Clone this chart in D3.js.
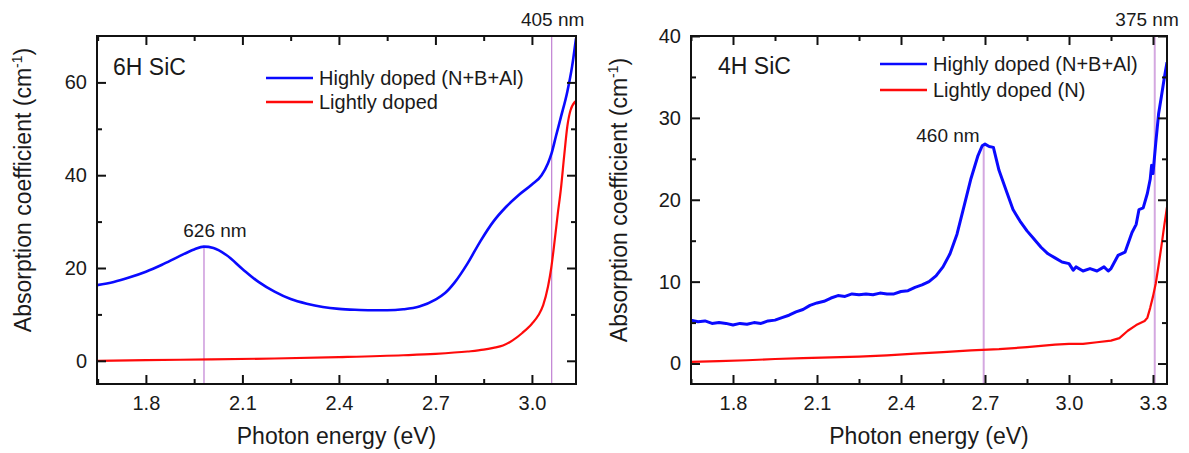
<!DOCTYPE html>
<html>
<head>
<meta charset="utf-8">
<script src="https://cdn.jsdelivr.net/npm/d3@7"></script>
<style>
  body { margin: 0; background: #fff; }
  text { font-family: "Liberation Sans", Arial, sans-serif; fill: #1a1a1a; }
</style>
</head>
<body>
<script>
var W = 1189, H = 453;

// ---- 6H SiC (left panel) ----
var high6H_E = [1.648, 1.70, 1.75, 1.80, 1.85, 1.90, 1.95, 1.98, 2.01, 2.05, 2.10, 2.15, 2.20, 2.25, 2.30,
  2.35, 2.40, 2.45, 2.50, 2.55, 2.60, 2.65, 2.70, 2.73, 2.76, 2.80, 2.84, 2.88, 2.92, 2.96, 3.00,
  3.03, 3.05, 3.061, 3.075, 3.09, 3.11, 3.125, 3.137];
var high6H_A = [16.3, 17.0, 18.0, 19.2, 20.7, 22.4, 24.0, 24.6, 24.3, 22.8, 19.8, 17.0, 14.9, 13.3, 12.3,
  11.6, 11.2, 11.0, 10.9, 10.9, 11.1, 11.7, 13.2, 14.6, 16.9, 21.0, 25.8, 30.0, 33.2, 35.8, 38.0,
  40.0, 42.6, 44.7, 48.5, 52.5, 58.0, 63.5, 69.5];

var light6H_E = [1.648, 1.80, 2.00, 2.20, 2.40, 2.60, 2.70, 2.80, 2.85, 2.88, 2.91, 2.94, 2.97, 3.00,
  3.02, 3.035, 3.05, 3.06, 3.07, 3.08, 3.09, 3.10, 3.11, 3.12, 3.137];
var light6H_A = [0.0, 0.15, 0.3, 0.5, 0.8, 1.2, 1.5, 2.0, 2.4, 2.8, 3.3, 4.4, 6.0, 8.0,
  9.8, 12.0, 16.0, 20.0, 25.5, 31.5, 37.0, 44.0, 50.5, 54.0, 56.0];

// ---- 4H SiC (right panel) ----
var high4H_E = [1.650, 1.675, 1.700, 1.725, 1.750, 1.775, 1.800, 1.825, 1.850, 1.875, 1.900, 1.925,
  1.950, 1.975, 2.000, 2.025, 2.050, 2.075, 2.100, 2.125, 2.150, 2.175, 2.200, 2.225, 2.250, 2.275,
  2.300, 2.325, 2.350, 2.375, 2.400, 2.425, 2.450, 2.475, 2.500, 2.525, 2.550, 2.575, 2.600, 2.625,
  2.650, 2.675, 2.690, 2.700, 2.715, 2.730, 2.750, 2.775, 2.800, 2.825, 2.850, 2.875, 2.900, 2.925,
  2.950, 2.975, 3.000, 3.015, 3.025, 3.050, 3.075, 3.100, 3.125, 3.140, 3.150, 3.175, 3.200, 3.225,
  3.240, 3.250, 3.265, 3.280, 3.290, 3.295, 3.300, 3.310, 3.320, 3.330, 3.340, 3.350];
var high4H_A = [5.3, 5.1, 5.2, 4.9, 5.0, 4.9, 4.7, 4.9, 4.8, 5.0, 4.9, 5.2,
  5.3, 5.6, 5.9, 6.3, 6.6, 7.1, 7.4, 7.6, 8.0, 8.3, 8.2, 8.5, 8.4, 8.5,
  8.4, 8.6, 8.5, 8.5, 8.8, 8.9, 9.3, 9.6, 10.0, 10.7, 11.8, 13.4, 15.8, 19.2,
  22.6, 25.4, 26.6, 26.8, 26.5, 26.4, 23.6, 21.2, 18.8, 17.4, 16.2, 15.2, 14.2, 13.4,
  12.9, 12.4, 12.2, 11.4, 11.8, 11.3, 11.6, 11.3, 11.8, 11.3, 11.6, 13.2, 13.6, 16.0,
  17.0, 18.8, 19.0, 20.8, 22.5, 24.2, 23.2, 27.0, 30.5, 32.6, 34.8, 36.8];

var light4H_E = [1.650, 1.75, 1.85, 1.95, 2.05, 2.15, 2.25, 2.35, 2.45, 2.55, 2.65, 2.75, 2.85, 2.95,
  3.00, 3.05, 3.10, 3.15, 3.18, 3.21, 3.24, 3.27, 3.28, 3.29, 3.30, 3.31, 3.32, 3.33, 3.34, 3.35];
var light4H_A = [0.2, 0.3, 0.4, 0.55, 0.65, 0.75, 0.85, 1.0, 1.2, 1.4, 1.6, 1.75, 2.0, 2.3,
  2.4, 2.4, 2.6, 2.8, 3.1, 4.0, 4.7, 5.2, 5.6, 6.8, 8.2, 9.8, 12.0, 14.3, 16.8, 19.1];

// axes ticks
var xMajor6H = [1.8, 2.1, 2.4, 2.7, 3.0];
var xMinor6H = [1.65, 1.95, 2.25, 2.55, 2.85];
var yMajor6H = [0, 20, 40, 60];
var yMinor6H = [10, 30, 50];

var xMajor4H = [1.8, 2.1, 2.4, 2.7, 3.0, 3.3];
var xMinor4H = [1.65, 1.95, 2.25, 2.55, 2.85, 3.15];
var yMajor4H = [0, 10, 20, 30, 40];
var yMinor4H = [5, 15, 25, 35];

// marker lines: energy (eV), top of line (value or null = frame top), label
var markers6H = [
  { e: 1239.84 / 626, top: 24.6, label: "626 nm" },
  { e: 1239.84 / 405, top: null, label: "405 nm" }
];
var markers4H = [
  { e: 1239.84 / 460, top: 26.8, label: "460 nm" },
  { e: 1239.84 / 375, top: null, label: "375 nm" }
];

var seriesNames6H = ["Highly doped (N+B+Al)", "Lightly doped"];
var seriesNames4H = ["Highly doped (N+B+Al)", "Lightly doped (N)"];
var colors = ["#0a0aff", "#ff0a0a"];

var svg = d3.select("body").append("svg")
  .attr("width", W)
  .attr("height", H);

function zip(es, as) {
  return es.map(function(e, i) { return { e: e, a: as[i] }; });
}

function drawPanel(p) {
  var x = d3.scaleLinear().domain(p.xDomain).range([p.left, p.right]);
  var y = d3.scaleLinear().domain(p.yDomain).range([p.bottom, p.top]);
  var g = svg.append("g");

  var clipId = "clip" + p.id;
  svg.append("clipPath").attr("id", clipId)
    .append("rect")
    .attr("x", p.left).attr("y", p.top)
    .attr("width", p.right - p.left).attr("height", p.bottom - p.top);

  // marker lines
  p.markers.forEach(function(m) {
    g.append("line")
      .attr("x1", x(m.e)).attr("x2", x(m.e))
      .attr("y1", p.bottom)
      .attr("y2", m.top === null ? p.top : y(m.top))
      .attr("stroke", p.markerColor)
      .attr("stroke-width", p.markerWidth);
  });

  // curves
  var line = d3.line()
    .x(function(d) { return x(d.e); })
    .y(function(d) { return y(d.a); })
    .curve(p.curve);

  p.series.forEach(function(s, i) {
    g.append("path")
      .datum(s)
      .attr("clip-path", "url(#" + clipId + ")")
      .attr("fill", "none")
      .attr("stroke", colors[i])
      .attr("stroke-width", p.lineWidths[i])
      .attr("stroke-linejoin", "round")
      .attr("d", line);
  });

  // axes (ticks pointing inward)
  function styleAxis(sel) {
    sel.select(".domain").remove();
    sel.selectAll(".tick line").attr("stroke", "#111").attr("stroke-width", 2);
    sel.selectAll(".tick text")
      .attr("font-size", "20px")
      .attr("font-family", "Liberation Sans, Arial, sans-serif")
      .attr("fill", "#1a1a1a");
  }

  g.append("g").attr("transform", "translate(0," + p.bottom + ")")
    .call(d3.axisBottom(x).tickValues(p.xMajor).tickSize(-9).tickPadding(12).tickFormat(d3.format(".1f")))
    .call(styleAxis);
  g.append("g").attr("transform", "translate(0," + p.bottom + ")")
    .call(d3.axisBottom(x).tickValues(p.xMinor).tickSize(-5).tickFormat(""))
    .call(styleAxis);
  g.append("g").attr("transform", "translate(0," + p.top + ")")
    .call(d3.axisTop(x).tickValues(p.xMajor).tickSize(-9).tickFormat(""))
    .call(styleAxis);
  g.append("g").attr("transform", "translate(0," + p.top + ")")
    .call(d3.axisTop(x).tickValues(p.xMinor).tickSize(-5).tickFormat(""))
    .call(styleAxis);

  g.append("g").attr("transform", "translate(" + p.left + ",0)")
    .call(d3.axisLeft(y).tickValues(p.yMajor).tickSize(-9).tickPadding(10))
    .call(styleAxis);
  g.append("g").attr("transform", "translate(" + p.left + ",0)")
    .call(d3.axisLeft(y).tickValues(p.yMinor).tickSize(-5).tickFormat(""))
    .call(styleAxis);
  g.append("g").attr("transform", "translate(" + p.right + ",0)")
    .call(d3.axisRight(y).tickValues(p.yMajor).tickSize(-9).tickFormat(""))
    .call(styleAxis);
  g.append("g").attr("transform", "translate(" + p.right + ",0)")
    .call(d3.axisRight(y).tickValues(p.yMinor).tickSize(-5).tickFormat(""))
    .call(styleAxis);

  // frame
  g.append("rect")
    .attr("x", p.left).attr("y", p.top)
    .attr("width", p.right - p.left).attr("height", p.bottom - p.top)
    .attr("fill", "none")
    .attr("stroke", "#111")
    .attr("stroke-width", 2);

  // panel title
  g.append("text")
    .attr("x", p.left + p.titleDx).attr("y", p.top + p.titleDy)
    .attr("font-size", "23px")
    .text(p.title);

  // legend
  p.names.forEach(function(n, i) {
    var ly = p.top + p.legendDy + i * p.legendGap;
    g.append("line")
      .attr("x1", p.left + p.legendDx).attr("x2", p.left + p.legendDx + 47)
      .attr("y1", ly).attr("y2", ly)
      .attr("stroke", colors[i]).attr("stroke-width", 2.5);
    g.append("text")
      .attr("x", p.left + p.legendDx + 53).attr("y", ly + 7)
      .attr("font-size", "20px")
      .text(n);
  });

  // marker labels
  p.markers.forEach(function(m, i) {
    var lp = p.labelPos[i];
    g.append("text")
      .attr("x", x(m.e) + lp.dx)
      .attr("y", (m.top === null ? p.top : y(m.top)) + lp.dy)
      .attr("text-anchor", lp.anchor)
      .attr("font-size", "19px")
      .text(m.label);
  });

  // axis titles
  g.append("text")
    .attr("x", (p.left + p.right) / 2).attr("y", 444)
    .attr("text-anchor", "middle")
    .attr("font-size", "23px")
    .text("Photon energy (eV)");

  var yt = g.append("text")
    .attr("transform", "translate(" + (p.left - p.yTitleOffset) + "," + p.yTitleCenter + ") rotate(-90)")
    .attr("text-anchor", "middle")
    .attr("font-size", "23px");
  yt.append("tspan").text("Absorption coefficient (cm");
  yt.append("tspan").attr("font-size", "14px").attr("dy", -9).text("-1");
  yt.append("tspan").attr("dy", 9).text(")");
}

drawPanel({
  id: "6H", title: "6H SiC",
  left: 97, right: 576, top: 36, bottom: 384,
  xDomain: [1.648, 3.137], yDomain: [-5, 70],
  xMajor: xMajor6H, xMinor: xMinor6H, yMajor: yMajor6H, yMinor: yMinor6H,
  series: [zip(high6H_E, high6H_A), zip(light6H_E, light6H_A)],
  names: seriesNames6H, lineWidths: [2.6, 2.2],
  curve: d3.curveMonotoneX,
  markers: markers6H, markerColor: "#c58ad6", markerWidth: 1.3,
  labelPos: [{ dx: 11, dy: -10, anchor: "middle" }, { dx: 1, dy: -10, anchor: "middle" }],
  titleDx: 16, titleDy: 39,
  legendDx: 169, legendDy: 42, legendGap: 24,
  yTitleOffset: 66, yTitleCenter: 190
});

drawPanel({
  id: "4H", title: "4H SiC",
  left: 691, right: 1167, top: 36, bottom: 384,
  xDomain: [1.65, 3.35], yDomain: [-2.5, 40],
  xMajor: xMajor4H, xMinor: xMinor4H, yMajor: yMajor4H, yMinor: yMinor4H,
  series: [zip(high4H_E, high4H_A), zip(light4H_E, light4H_A)],
  names: seriesNames4H, lineWidths: [3, 2.2],
  curve: d3.curveLinear,
  markers: markers4H, markerColor: "#d4a8e0", markerWidth: 2,
  labelPos: [{ dx: -4, dy: -2, anchor: "end" }, { dx: 24, dy: -10, anchor: "end" }],
  titleDx: 27, titleDy: 38,
  legendDx: 189, legendDy: 28, legendGap: 26,
  yTitleOffset: 64, yTitleCenter: 200
});
</script>
</body>
</html>
